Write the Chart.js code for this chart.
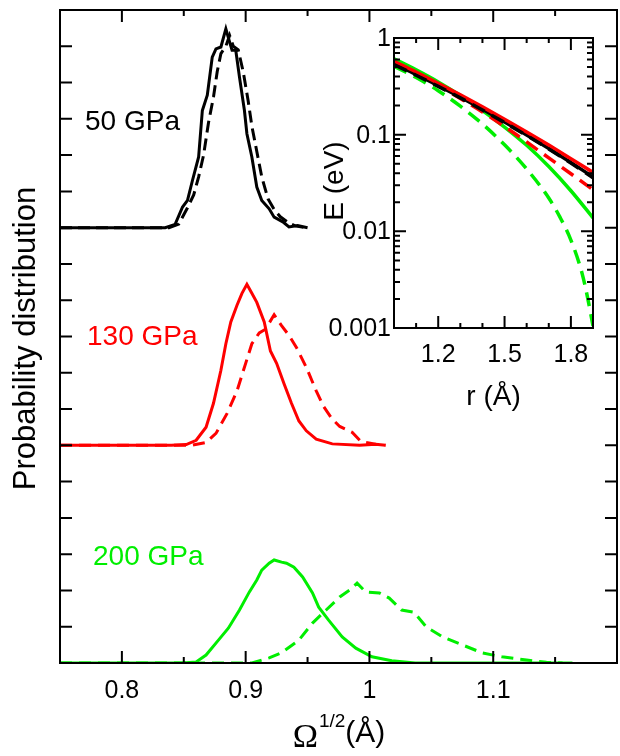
<!DOCTYPE html>
<html>
<head>
<meta charset="utf-8">
<script src="https://cdn.jsdelivr.net/npm/chart.js@4.4.0/dist/chart.umd.min.js"></script>
<style>
  html, body { margin: 0; padding: 0; background: #fff; }
  #wrap { position: relative; width: 620px; height: 756px; }
  #main { position: absolute; left: 0; top: 0; }
  #inset { position: absolute; left: 300px; top: 0; }
</style>
</head>
<body>
<div id="wrap">
  <canvas id="main" width="620" height="756"></canvas>
  <canvas id="inset" width="310" height="420"></canvas>
</div>
<script>
// main panel: distributions of Omega^1/2, stacked with baselines
const baselines = [12, 6, 0]; // 50, 130, 200 GPa
const pressureLabels = ["50 GPa", "130 GPa", "200 GPa"];

const bSolidX = [0.75, 0.835, 0.843, 0.849, 0.853, 0.857, 0.862, 0.865, 0.869, 0.873, 0.876, 0.880, 0.884, 0.887, 0.889, 0.892, 0.895, 0.899, 0.901, 0.905, 0.909, 0.913, 0.919, 0.923, 0.930, 0.935, 0.942, 0.950];
const bSolidY = [0, 0, 0.09, 0.57, 0.75, 1.3, 1.95, 3.23, 3.65, 4.7, 4.93, 4.98, 5.48, 5.12, 4.89, 4.89, 4.15, 3.23, 2.59, 1.95, 1.12, 0.75, 0.52, 0.29, 0.16, 0.02, 0.06, 0];
const bDashX = [0.75, 0.838, 0.846, 0.853, 0.858, 0.862, 0.866, 0.870, 0.874, 0.877, 0.880, 0.884, 0.887, 0.890, 0.894, 0.898, 0.902, 0.905, 0.909, 0.913, 0.918, 0.923, 0.928, 0.934, 0.940, 0.948];
const bDashY = [0, 0, 0.1, 0.55, 0.9, 1.4, 2.0, 2.9, 3.6, 4.3, 4.8, 5.0, 5.3, 5.0, 4.9, 4.3, 3.5, 2.8, 2.1, 1.4, 0.8, 0.5, 0.3, 0.15, 0.05, 0];

const rSolidX = [0.75, 0.84, 0.852, 0.860, 0.868, 0.874, 0.880, 0.884, 0.888, 0.893, 0.897, 0.901, 0.905, 0.909, 0.915, 0.920, 0.925, 0.931, 0.937, 0.943, 0.949, 0.957, 0.970, 0.992, 1.005, 1.013];
const rSolidY = [0, 0, 0.02, 0.14, 0.5, 1.16, 2.07, 2.8, 3.4, 3.86, 4.19, 4.44, 4.19, 3.94, 3.4, 2.6, 2.26, 1.7, 1.16, 0.67, 0.4, 0.17, 0.04, 0, 0.03, 0];
const rDashX = [0.75, 0.856, 0.868, 0.876, 0.885, 0.893, 0.900, 0.905, 0.911, 0.916, 0.923, 0.929, 0.935, 0.941, 0.949, 0.957, 0.963, 0.970, 0.976, 0.986, 0.993, 1.005, 1.013];
const rDashY = [0, 0, 0.08, 0.33, 0.88, 1.5, 2.26, 2.8, 3.1, 3.2, 3.6, 3.3, 3.03, 2.7, 2.15, 1.5, 1.07, 0.72, 0.52, 0.36, 0.11, 0.03, 0];

const gSolidX = [0.75, 0.849, 0.860, 0.868, 0.878, 0.886, 0.895, 0.903, 0.909, 0.913, 0.919, 0.923, 0.929, 0.933, 0.939, 0.946, 0.954, 0.959, 0.967, 0.978, 0.989, 1.002, 1.018, 1.037, 1.164];
const gSolidY = [0, 0, 0.03, 0.22, 0.63, 0.96, 1.46, 1.96, 2.29, 2.56, 2.75, 2.84, 2.78, 2.75, 2.64, 2.37, 1.93, 1.54, 1.18, 0.72, 0.41, 0.17, 0.06, 0, 0];
const gDashX = [0.75, 0.905, 0.919, 0.929, 0.943, 0.954, 0.965, 0.976, 0.984, 0.990, 0.997, 1.008, 1.016, 1.026, 1.036, 1.046, 1.059, 1.075, 1.091, 1.107, 1.127, 1.143, 1.156];
const gDashY = [0, 0, 0.14, 0.28, 0.63, 1.1, 1.46, 1.82, 2.01, 2.2, 1.96, 1.93, 1.79, 1.46, 1.40, 0.99, 0.72, 0.5, 0.28, 0.17, 0.08, 0.02, 0];

const xMajorTicks = [0.8, 0.9, 1.0, 1.1];
const xTickLabels = ["0.8", "0.9", "1", "1.1"];
const xMinorTicks = [0.85, 0.95, 1.05, 1.15];
const yTicks = [0, 1, 2, 3, 4, 5, 6, 7, 8, 9, 10, 11, 12, 13, 14, 15, 16, 17, 18];

// inset: E(r) on log scale
const rGrid = [1.0, 1.1, 1.2, 1.3, 1.4, 1.5, 1.6, 1.7, 1.8, 1.9];
const eBlackSolid = [0.54, 0.419, 0.321, 0.244, 0.183, 0.1355, 0.0993, 0.0719, 0.0515, 0.0365];
const eBlackDash = [0.53, 0.412, 0.316, 0.240, 0.180, 0.1335, 0.098, 0.071, 0.0508, 0.0358];
const eRedSolid = [0.575, 0.445, 0.340, 0.258, 0.194, 0.1445, 0.1067, 0.078, 0.0565, 0.0407];
const eRedDash = [0.55, 0.422, 0.32, 0.237, 0.172, 0.1216, 0.0841, 0.0575, 0.0394, 0.0269];
const eGreenSolid = [0.61, 0.468, 0.351, 0.254, 0.178, 0.120, 0.0776, 0.0468, 0.0263, 0.0138];
const rGreenDash = [1.0, 1.1, 1.2, 1.3, 1.4, 1.5, 1.6, 1.7, 1.75, 1.8, 1.85, 1.875, 1.9];
const eGreenDash = [0.51, 0.39, 0.285, 0.197, 0.129, 0.0785, 0.0442, 0.0221, 0.0141, 0.00813, 0.00372, 0.00209, 0.00105];

const rMajorTicks = [1.2, 1.5, 1.8];
const rTickLabels = ["1.2", "1.5", "1.8"];
const rMinorTicks = [1.1, 1.3, 1.4, 1.6, 1.7];
const eDecades = [1, 0.1, 0.01, 0.001];
const eTickLabels = ["1", "0.1", "0.01", "0.001"];

const BLACK = "#000000", RED = "#ff0000", GREEN = "#00ee00";
const SANS = '"Liberation Sans", Arial, sans-serif';

function pairs(xs, ys, offset) {
    return xs.map((x, i) => ({ x: x, y: ys[i] + (offset || 0) }));
}

function line(data, color, dash, width) {
    return {
        data: data,
        borderColor: color,
        borderWidth: width,
        borderDash: dash,
        pointRadius: 0,
        fill: false,
        tension: 0,
    };
}

// frame, inward ticks and text for the main panel
const mainDecor = {
    id: "mainDecor",
    afterDatasetsDraw(chart) {
        const { ctx, chartArea: a, scales: { x, y } } = chart;
        ctx.save();
        ctx.strokeStyle = BLACK;
        ctx.lineWidth = 2;
        ctx.strokeRect(a.left, a.top, a.right - a.left, a.bottom - a.top);
        ctx.beginPath();
        const xt = (v, len) => {
            const px = x.getPixelForValue(v);
            ctx.moveTo(px, a.bottom); ctx.lineTo(px, a.bottom - len);
            ctx.moveTo(px, a.top); ctx.lineTo(px, a.top + len);
        };
        xMajorTicks.forEach(v => xt(v, 12));
        xMinorTicks.forEach(v => xt(v, 6));
        yTicks.forEach(v => {
            const py = y.getPixelForValue(v);
            ctx.moveTo(a.left, py); ctx.lineTo(a.left + 12, py);
            ctx.moveTo(a.right, py); ctx.lineTo(a.right - 12, py);
        });
        ctx.stroke();

        ctx.fillStyle = BLACK;
        ctx.font = "25px " + SANS;
        ctx.textAlign = "center";
        ctx.textBaseline = "alphabetic";
        xMajorTicks.forEach((v, i) => ctx.fillText(xTickLabels[i], x.getPixelForValue(v), a.bottom + 35));

        // x title: Omega^{1/2}(Å)
        const omegaFont = '34px "Liberation Serif", serif';
        ctx.font = omegaFont;
        const w1 = ctx.measureText("\u03A9").width;
        ctx.font = "19px " + SANS;
        const w2 = ctx.measureText("1/2").width;
        ctx.font = "30px " + SANS;
        const w3 = ctx.measureText("(\u00C5)").width;
        let sx = (a.left + a.right) / 2 - (w1 + w2 + w3) / 2;
        ctx.textAlign = "left";
        ctx.font = omegaFont;
        ctx.fillText("\u03A9", sx, a.bottom + 84);
        ctx.font = "19px " + SANS;
        ctx.fillText("1/2", sx + w1 + 1, a.bottom + 64);
        ctx.font = "30px " + SANS;
        ctx.fillText("(\u00C5)", sx + w1 + w2 + 1, a.bottom + 79);

        // y title
        ctx.save();
        ctx.translate(a.left - 25, (a.top + a.bottom) / 2 + 2);
        ctx.rotate(-Math.PI / 2);
        ctx.textAlign = "center";
        ctx.font = "31px " + SANS;
        ctx.fillText("Probability distribution", 0, 0);
        ctx.restore();

        // pressure labels
        ctx.font = "28px " + SANS;
        ctx.textAlign = "left";
        const colors = [BLACK, RED, GREEN];
        const offs = [[25, 120], [27, 335], [33, 555]];
        pressureLabels.forEach((t, i) => {
            ctx.fillStyle = colors[i];
            ctx.fillText(t, a.left + offs[i][0], a.top + offs[i][1]);
        });
        ctx.restore();
    }
};

new Chart(document.getElementById("main"), {
    type: "line",
    data: {
        datasets: [
            line(pairs(bSolidX, bSolidY, baselines[0]), BLACK, [], 3),
            line(pairs(bDashX, bDashY, baselines[0]), BLACK, [12, 6], 3),
            line(pairs(rSolidX, rSolidY, baselines[1]), RED, [], 3),
            line(pairs(rDashX, rDashY, baselines[1]), RED, [12, 7], 3),
            line(pairs(gSolidX, gSolidY, baselines[2]), GREEN, [], 3),
            line(pairs(gDashX, gDashY, baselines[2]), GREEN, [12, 7], 3),
        ],
    },
    options: {
        responsive: false,
        animation: false,
        devicePixelRatio: 1,
        layout: { padding: { top: 10, right: 3, left: 0, bottom: 0 } },
        plugins: { legend: { display: false }, tooltip: { enabled: false } },
        scales: {
            x: {
                type: "linear",
                min: 0.75,
                max: 1.2,
                ticks: { display: false, stepSize: 0.05 },
                grid: { display: false, drawTicks: false },
                border: { display: false },
                afterFit(s) { s.height = 93; },
            },
            y: {
                type: "linear",
                min: 0,
                max: 18,
                ticks: { display: false, stepSize: 1 },
                grid: { display: false, drawTicks: false },
                border: { display: false },
                afterFit(s) { s.width = 60; },
            },
        },
    },
    plugins: [mainDecor],
});

// frame, ticks and text for the inset
const insetDecor = {
    id: "insetDecor",
    afterDatasetsDraw(chart) {
        const { ctx, chartArea: a, scales: { x, y } } = chart;
        ctx.save();
        ctx.strokeStyle = BLACK;
        ctx.lineWidth = 2;
        ctx.strokeRect(a.left, a.top, a.right - a.left, a.bottom - a.top);
        ctx.beginPath();
        const xt = (v, len) => {
            const px = x.getPixelForValue(v);
            ctx.moveTo(px, a.bottom); ctx.lineTo(px, a.bottom - len);
            ctx.moveTo(px, a.top); ctx.lineTo(px, a.top + len);
        };
        rMajorTicks.forEach(v => xt(v, 12));
        rMinorTicks.forEach(v => xt(v, 5));
        const yt = (v, len) => {
            const py = y.getPixelForValue(v);
            ctx.moveTo(a.left, py); ctx.lineTo(a.left + len, py);
            ctx.moveTo(a.right, py); ctx.lineTo(a.right - len, py);
        };
        eDecades.forEach(d => {
            yt(d, 12);
            if (d < 1) for (let m = 2; m <= 9; m++) yt(d * m, 6);
        });
        ctx.stroke();

        ctx.fillStyle = BLACK;
        ctx.font = "25px " + SANS;
        ctx.textAlign = "center";
        ctx.textBaseline = "alphabetic";
        rMajorTicks.forEach((v, i) => ctx.fillText(rTickLabels[i], x.getPixelForValue(v), a.bottom + 34));
        ctx.textAlign = "right";
        ctx.textBaseline = "middle";
        eDecades.forEach((v, i) => ctx.fillText(eTickLabels[i], a.left - 3, y.getPixelForValue(v) + 1));

        ctx.textBaseline = "alphabetic";
        ctx.textAlign = "center";
        ctx.font = "28px " + SANS;
        ctx.fillText("r (\u00C5)", (a.left + a.right) / 2, a.bottom + 77);
        ctx.save();
        ctx.translate(a.left - 51, (a.top + a.bottom) / 2 - 2);
        ctx.rotate(-Math.PI / 2);
        ctx.fillText("E (eV)", 0, 0);
        ctx.restore();
        ctx.restore();
    }
};

function smooth(ds) {
    ds.cubicInterpolationMode = "monotone";
    return ds;
}

new Chart(document.getElementById("inset"), {
    type: "line",
    data: {
        datasets: [
            smooth(line(pairs(rGrid, eBlackDash), BLACK, [14, 8], 3.5)),
            smooth(line(pairs(rGrid, eRedSolid), RED, [], 3.5)),
            smooth(line(pairs(rGrid, eBlackSolid), BLACK, [], 3.5)),
            smooth(line(pairs(rGrid, eRedDash), RED, [14, 8], 3.5)),
            smooth(line(pairs(rGrid, eGreenSolid), GREEN, [], 3.5)),
            smooth(line(pairs(rGreenDash, eGreenDash), GREEN, [14, 8], 3.5)),
        ],
    },
    options: {
        responsive: false,
        animation: false,
        devicePixelRatio: 1,
        layout: { padding: { top: 38, right: 17, left: 0, bottom: 0 } },
        plugins: { legend: { display: false }, tooltip: { enabled: false } },
        scales: {
            x: {
                type: "linear",
                min: 1.0,
                max: 1.9,
                ticks: { display: false, stepSize: 0.1 },
                grid: { display: false, drawTicks: false },
                border: { display: false },
                afterFit(s) { s.height = 92; },
            },
            y: {
                type: "logarithmic",
                min: 0.001,
                max: 1,
                ticks: { display: false },
                grid: { display: false, drawTicks: false },
                border: { display: false },
                afterFit(s) { s.width = 94; },
            },
        },
    },
    plugins: [insetDecor],
});
</script>
</body>
</html>
